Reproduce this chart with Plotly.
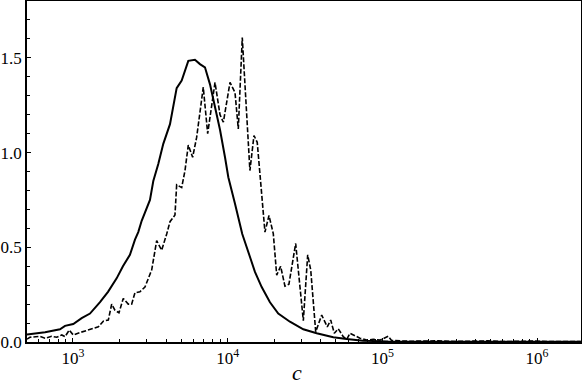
import plotly.graph_objects as go

# solid curve
c_solid = [504, 660, 824, 888, 1004, 1138, 1288, 1495, 1684, 1915, 2103, 2334, 2516, 2642,
           2780, 3145, 3305, 3559, 3834, 4237, 4679, 5042, 5564, 6143, 6618, 7129, 7686,
           8281, 8919, 9610, 10095, 11151, 12426, 13921, 15006, 16589, 18764, 21233,
           25258, 30835, 37612, 48165, 53168, 58763, 74900, 109040, 300000, 1920000]
y_solid = [0.040, 0.052, 0.067, 0.085, 0.095, 0.126, 0.15, 0.21, 0.265, 0.336, 0.40, 0.46,
           0.54, 0.58, 0.64, 0.75, 0.85, 0.94, 1.046, 1.15, 1.34, 1.38, 1.484, 1.49, 1.467,
           1.45, 1.36, 1.24, 1.12, 0.975, 0.87, 0.73, 0.57, 0.45, 0.37, 0.29, 0.21, 0.15,
           0.107, 0.067, 0.046, 0.025, 0.02, 0.016, 0.007, 0.003, 0.001, 0.001]

# dashed curve
c_dash = [504, 527, 612, 659, 728, 785, 846, 888, 946, 1004, 1110, 1227, 1321, 1458, 1571,
          1692, 1779, 1867, 1982, 2113, 2276, 2394, 2516, 2709, 2918, 3226, 3476, 3743,
          4033, 4237, 4563, 4679, 5042, 5298, 5564, 5935, 6300, 6618, 6953, 7424, 7885,
          8281, 8919, 9372, 10353, 11151, 11711, 12426, 13921, 14790, 15525, 16589, 17414,
          18490, 19716, 20744, 21995, 23448, 24884, 27512, 30835, 32900, 34426, 37072,
          40531, 44043, 46327, 48888, 51858, 55872, 58763, 61768, 64933, 71657, 79171,
          87336, 96385, 109040, 114660, 150000, 228600, 300000, 481500, 600000, 968000,
          1200000, 1920000]
y_dash = [0.015, 0.025, 0.03, 0.02, 0.03, 0.025, 0.037, 0.028, 0.063, 0.037, 0.05, 0.06,
          0.067, 0.08, 0.11, 0.116, 0.20, 0.168, 0.154, 0.23, 0.20, 0.20, 0.26, 0.265, 0.29,
          0.38, 0.535, 0.484, 0.57, 0.635, 0.67, 0.83, 0.815, 0.905, 1.04, 0.975, 1.08, 1.22,
          1.345, 1.10, 1.26, 1.37, 1.20, 1.16, 1.37, 1.317, 1.125, 1.607, 0.905, 1.09, 1.054,
          0.80, 0.58, 0.668, 0.572, 0.353, 0.40, 0.295, 0.305, 0.52, 0.112, 0.46, 0.38,
          0.054, 0.142, 0.08, 0.116, 0.046, 0.07, 0.028, 0.014, 0.046, 0.037, 0.02, 0.01,
          0.014, 0.01, 0.03, 0.008, 0.004, 0.006, 0.003, 0.006, 0.002, 0.005, 0.002, 0.002]

x_tickvals = [1e3, 1e4, 1e5, 1e6]
x_ticktext = ['10<sup>3</sup>', '10<sup>4</sup>', '10<sup>5</sup>', '10<sup>6</sup>']
y_tickvals = [0.0, 0.5, 1.0, 1.5]

fig = go.Figure()
fig.add_trace(go.Scatter(x=c_solid, y=y_solid, mode='lines',
                         line=dict(color='black', width=2), showlegend=False))
fig.add_trace(go.Scatter(x=c_dash, y=y_dash, mode='lines',
                         line=dict(color='black', width=1.6, dash='5px,2px'), showlegend=False))

serif = 'Liberation Serif, Times New Roman, serif'

fig.update_layout(
    width=582, height=386,
    margin=dict(l=27, r=1, t=1, b=44, autoexpand=False),
    plot_bgcolor='white', paper_bgcolor='white',
    font=dict(family=serif, size=17, color='black'),
    xaxis=dict(type='log', range=[2.7027, 6.284], automargin=False,
               tickvals=x_tickvals, ticktext=x_ticktext,
               ticks='inside', ticklen=4, tickcolor='black',
               minor=dict(dtick='D1', ticks='inside', ticklen=3, tickcolor='black', showgrid=False),
               showline=True, linecolor='black', linewidth=1.5, mirror=True,
               showgrid=False, zeroline=False),
    yaxis=dict(range=[0, 1.8], tickvals=y_tickvals, tickformat='.1f', automargin=False,
               ticks='inside', ticklen=4, tickcolor='black',
               minor=dict(dtick=0.1, ticks='inside', ticklen=3, tickcolor='black', showgrid=False),
               showline=True, linecolor='black', linewidth=1.5, mirror=True,
               showgrid=False, zeroline=False),
    annotations=[dict(text='<i>c</i>', xref='paper', yref='paper', x=0.487, y=0,
                      yshift=-30, xanchor='center', yanchor='middle', showarrow=False,
                      font=dict(family=serif, size=22, color='black'))],
)

# drop the default 8px page margin so the figure sits at the window corner
fig.write_html('out.html', config={'displayModeBar': False},
               post_script="document.body.style.margin='0';")
